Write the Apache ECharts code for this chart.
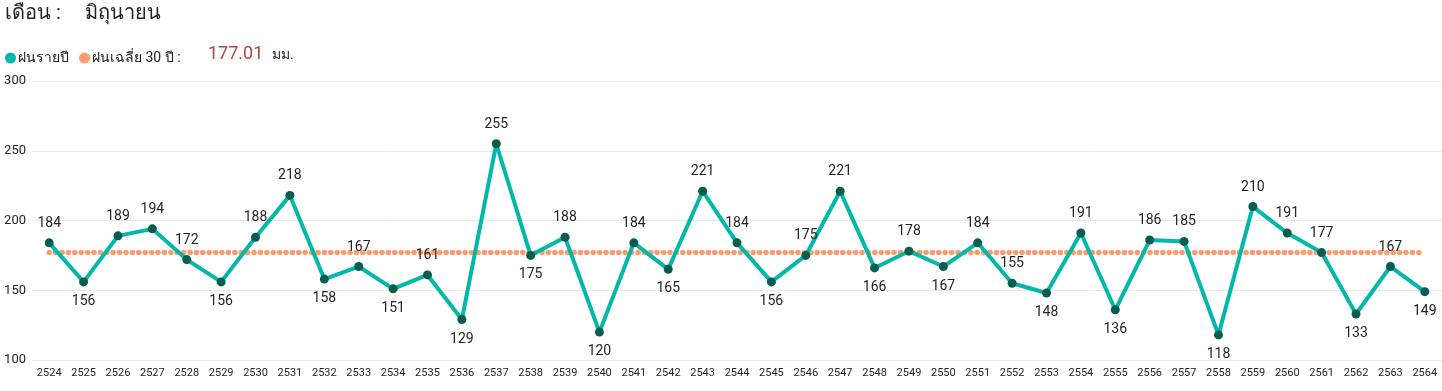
<!DOCTYPE html>
<html>
<head>
<meta charset="utf-8">
<script src="https://cdn.jsdelivr.net/npm/echarts@6/dist/echarts.min.js"></script>
<style>
html,body{margin:0;padding:0;background:#fff;}
#chart{width:1442px;height:391px;}
</style>
</head>
<body>
<div id="chart"></div>
<script>
const years = ['2524','2525','2526','2527','2528','2529','2530','2531','2532','2533','2534','2535','2536','2537','2538','2539','2540','2541','2542','2543','2544','2545','2546','2547','2548','2549','2550','2551','2552','2553','2554','2555','2556','2557','2558','2559','2560','2561','2562','2563','2564'];
const rainfall = [184,156,189,194,172,156,188,218,158,167,151,161,129,255,175,188,120,184,165,221,184,156,175,221,166,178,167,184,155,148,191,136,186,185,118,210,191,177,133,167,149];
const average30 = 177.01;
const yTicks = [100,150,200,250,300];
const monthName = 'มิถุนายน';

// label side for each point (style only)
const labelSide = ['top','bottom','top','top','top','bottom','top','top','bottom','top','bottom','top','bottom','top','bottom','top','bottom','top','bottom','top','top','bottom','top','top','bottom','top','bottom','top','top','bottom','top','bottom','top','top','bottom','top','top','top','bottom','top','bottom'];

const FONT = 'Roboto, "Noto Sans", "DejaVu Sans", sans-serif';
const chart = echarts.init(document.getElementById('chart'), null, {renderer:'canvas'});

const lineData = rainfall.map((v,i)=>({
  value: v,
  label: { position: labelSide[i] }
}));

chart.setOption({
  animation: false,
  textStyle: { fontFamily: FONT },
  grid: { left: 32, right: 0, top: 81, bottom: 31, containLabel: false },
  legend: {
    left: 0, top: 46,
    icon: 'circle', itemWidth: 11, itemHeight: 11, itemGap: 10,
    textStyle: { fontSize: 14, color: '#252423', fontFamily: FONT, padding:[0,0,0,-3] },
    data: [
      { name: 'ฝนรายปี', itemStyle: { color: '#01B8AA' } },
      { name: 'ฝนเฉลี่ย 30 ปี :', itemStyle: { color: '#FD9C6C' } }
    ]
  },
  graphic: [
    { type:'text', left: 5, top: 4, style:{ text:'เดือน :', fontSize: 20, fill:'#252423', fontFamily: FONT } },
    { type:'text', left: 85, top: 4, style:{ text: monthName, fontSize: 20, fill:'#252423', fontFamily: FONT } },
    { type:'text', left: 208, top: 45, style:{ text: average30.toFixed(2), fontSize: 18, fill:'#B5453A', fontFamily: FONT } },
    { type:'text', left: 272, top: 48, style:{ text: 'มม.', fontSize: 14, fill:'#252423', fontFamily: FONT } }
  ],
  xAxis: {
    type: 'category', data: years, boundaryGap: true,
    axisLine: { show: false }, axisTick: { show: false },
    axisLabel: { fontSize: 11, color: '#252423', margin: 8, interval: 0, fontFamily: FONT }
  },
  yAxis: {
    type: 'value', min: yTicks[0], max: yTicks[yTicks.length-1], interval: 50,
    axisLine: { show: false }, axisTick: { show: false },
    splitLine: { lineStyle: { color: '#E9E9E9', width: 1 } },
    axisLabel: { fontSize: 13, color: '#252423', margin: 6, fontFamily: FONT }
  },
  series: [
    {
      name: 'ฝนรายปี', type: 'line', data: lineData,
      color: '#01B8AA',
      symbol: 'circle', symbolSize: 9,
      itemStyle: { color: '#0A5C4F' },
      lineStyle: { color: '#01B8AA', width: 4 },
      label: { show: true, fontSize: 14, color: '#252423', distance: 8, fontFamily: FONT },
      z: 3
    },
    {
      name: 'ฝนเฉลี่ย 30 ปี :', type: 'line',
      data: years.map(()=>average30),
      color: '#FD9C6C',
      symbol: 'none',
      lineStyle: { color: '#FD9C6C', width: 5.5, type: [0, 6.4], cap: 'round' },
      z: 2
    }
  ]
});
</script>
</body>
</html>
